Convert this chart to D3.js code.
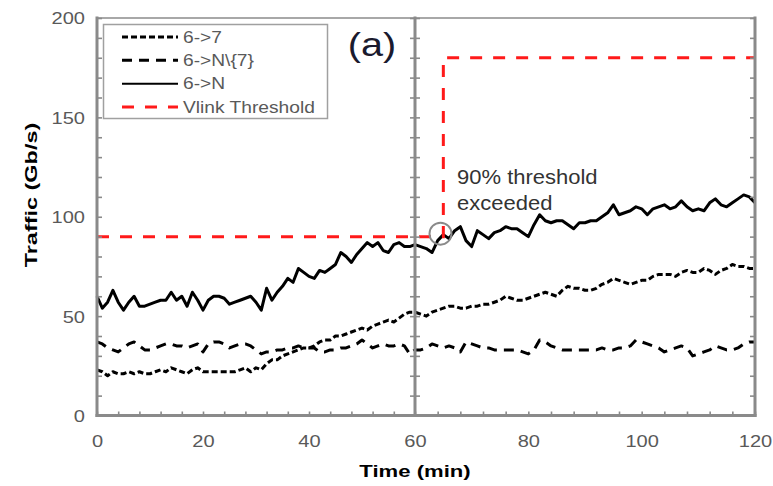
<!DOCTYPE html>
<html>
<head>
<meta charset="utf-8">
<script src="https://cdn.jsdelivr.net/npm/d3@7/dist/d3.min.js"></script>
<style>
  html, body { margin: 0; padding: 0; background: #fff; }
  svg { display: block; }
</style>
</head>
<body>
<svg id="chart" width="773" height="486"></svg>
<script>
// Time axis (minutes) shared by every series
const minutes = d3.range(0, 121);

// 6->N : total traffic leaving node 6
const trafficTotal = [
  60, 54, 57, 63, 57, 53, 57, 60, 55, 55, 56, 57, 58, 58, 62, 58, 60, 55, 62, 58,
  53, 58, 60, 60, 59, 56, 57, 58, 59, 60, 57, 53, 64, 58, 62, 65, 69, 67, 74, 72,
  70, 69, 73, 72, 74, 76, 82, 80, 77, 81, 84, 87, 85, 87, 83, 82, 86, 87, 85, 85,
  86, 85, 84, 82, 88, 91, 89, 93, 95, 88, 85, 93, 91, 89, 92, 93, 95, 94, 94, 92,
  90, 96, 101, 98, 97, 98, 98, 96, 94, 97, 97, 98, 98, 100, 102, 106, 101, 102, 103, 105,
  104, 101, 104, 105, 106, 104, 105, 108, 105, 103, 104, 103, 107, 109, 106, 105, 107, 109, 111, 110,
  107
];

// 6->7 : traffic towards node 7
const trafficTo7 = [
  23, 22, 20, 22, 21, 21, 22, 21, 22, 21, 21, 22, 23, 22, 24, 23, 22, 21, 23, 24,
  22, 22, 22, 22, 22, 22, 22, 23, 24, 22, 24, 23, 26, 28, 28, 30, 31, 32, 33, 34,
  34, 35, 37, 38, 38, 40, 40, 41, 42, 43, 44, 43, 45, 46, 47, 48, 47, 49, 51, 52,
  52, 51, 50, 52, 53, 54, 55, 55, 54, 54, 55, 55, 56, 56, 57, 58, 60, 59, 58, 58,
  59, 60, 61, 62, 61, 60, 63, 65, 64, 64, 63, 63, 64, 66, 67, 69, 68, 67, 66, 67,
  68, 68, 70, 71, 71, 71, 70, 72, 73, 72, 72, 74, 73, 71, 73, 74, 76, 75, 75, 74,
  74
];

// 6->N\{7} : traffic towards all other nodes
const trafficOthers = [
  37, 36, 34, 33, 32, 34, 36, 37, 35, 33, 33, 34, 35, 36, 36, 35, 35, 34, 35, 36,
  32, 36, 37, 37, 36, 34, 35, 36, 36, 35, 33, 31, 32, 32, 33, 33, 34, 34, 35, 34,
  34, 34, 32, 32, 33, 33, 34, 34, 35, 36, 38, 36, 34, 35, 36, 35, 35, 36, 35, 31,
  33, 33, 34, 36, 35, 34, 35, 34, 32, 37, 36, 35, 34, 34, 33, 33, 33, 33, 33, 32,
  31, 33, 38, 37, 35, 34, 33, 33, 33, 33, 33, 33, 33, 34, 33, 33, 34, 34, 35, 38,
  37, 36, 35, 34, 32, 33, 34, 35, 34, 30, 31, 32, 33, 35, 34, 33, 33, 34, 36, 37,
  37
];

// Virtual-link threshold: step from 90 to 180 Gb/s once exceeded
const thresholdTimes  = [0, 65, 65, 120];
const thresholdValues = [90, 90, 180, 180];

// Point where the 90% threshold is exceeded
const exceedTime = 64.5;
const exceedValue = 90;

// Axis ticks
const xTickLabels = [0, 20, 40, 60, 80, 100, 120];
const yTickLabels = [0, 50, 100, 150, 200];
const xMinorTicks = d3.range(0, 121, 4);
const yMinorTicks = d3.range(0, 201, 10);

// Legend entries
const legendLabels = ["6->7", "6->N\\{7}", "6->N", "Vlink Threshold"];

const svg = d3.select("#chart");

// The two halves of the time axis are drawn at slightly different widths
const x = d3.scaleLinear().domain([0, 60, 120]).range([97, 415, 755]);
const y = d3.scaleLinear().domain([0, 200]).range([415.5, 18]);

const axisGrey = "#8a8a8a";
const labelGrey = "#595959";
const font = "'Liberation Sans', Arial, sans-serif";

// Frame: top border
svg.append("line")
  .attr("x1", x(0)).attr("x2", x(120))
  .attr("y1", y(200)).attr("y2", y(200))
  .attr("stroke", "#a8a8a8").attr("stroke-width", 2);

// Series styles
const series = [
  { values: trafficTo7,    dash: "6,3",  width: 3 },
  { values: trafficOthers, dash: "10,7", width: 3 },
  { values: trafficTotal,  dash: null,   width: 3 }
];

const line = d3.line()
  .x((d, i) => x(minutes[i]))
  .y(d => y(d));

series.forEach(s => {
  svg.append("path")
    .datum(s.values)
    .attr("d", line)
    .attr("fill", "none")
    .attr("stroke", "#000")
    .attr("stroke-width", s.width)
    .attr("stroke-linejoin", "round")
    .attr("stroke-dasharray", s.dash);
});

// Threshold step line
const thrLine = d3.line()
  .x((d, i) => x(thresholdTimes[i]))
  .y(d => y(d));
svg.append("path")
  .datum(thresholdValues)
  .attr("d", thrLine)
  .attr("fill", "none")
  .attr("stroke", "#ff1a1a")
  .attr("stroke-width", 3)
  .attr("stroke-dasharray", "12,11");

// Axes: minor ticks pointing inward
const tickStyle = g => {
  g.select(".domain").remove();
  g.selectAll(".tick line").attr("stroke", axisGrey).attr("stroke-width", 1.6);
};

svg.append("g").attr("transform", `translate(${x(0)},0)`)
  .call(d3.axisRight(y).tickValues(yMinorTicks).tickSize(5).tickFormat(""))
  .call(tickStyle);
svg.append("g").attr("transform", `translate(${x(60)},0)`)
  .call(d3.axisRight(y).tickValues(yMinorTicks).tickSize(5).tickFormat(""))
  .call(tickStyle);
svg.append("g").attr("transform", `translate(${x(60)},0)`)
  .call(d3.axisLeft(y).tickValues(yMinorTicks).tickSize(5).tickFormat(""))
  .call(tickStyle);
svg.append("g").attr("transform", `translate(${x(120)},0)`)
  .call(d3.axisLeft(y).tickValues(yMinorTicks).tickSize(5).tickFormat(""))
  .call(tickStyle);
svg.append("g").attr("transform", `translate(0,${y(0)})`)
  .call(d3.axisTop(x).tickValues(xMinorTicks).tickSize(4).tickFormat(""))
  .call(tickStyle);

// Frame lines: left, middle, right, bottom
[[x(0), y(200), x(0), y(0)],
 [x(60), y(200), x(60), y(0)],
 [x(120), y(200), x(120), y(0)],
 [x(0), y(0), x(120), y(0)]].forEach(c => {
  svg.append("line")
    .attr("x1", c[0]).attr("y1", c[1]).attr("x2", c[2]).attr("y2", c[3])
    .attr("stroke", axisGrey).attr("stroke-width", 3)
    .attr("stroke-linecap", "square");
});

// Tick labels
const yAxis = svg.append("g").attr("transform", `translate(${x(0)},0)`)
  .call(d3.axisLeft(y).tickValues(yTickLabels).tickSize(0).tickPadding(0));
yAxis.select(".domain").remove();
yAxis.selectAll("text")
  .attr("x", null).attr("dy", "0.35em")
  .attr("transform", "translate(-12,0) scale(1.18,1)")
  .attr("fill", labelGrey)
  .style("font-family", font)
  .style("font-size", "17px");

const xAxis = svg.append("g").attr("transform", `translate(0,${y(0)})`)
  .call(d3.axisBottom(x).tickValues(xTickLabels).tickSize(0).tickPadding(0));
xAxis.select(".domain").remove();
xAxis.selectAll("text")
  .attr("y", null).attr("dy", null)
  .attr("transform", "translate(0,31) scale(1.18,1)")
  .attr("fill", labelGrey)
  .style("font-family", font)
  .style("font-size", "17px");

// Axis titles
svg.append("text")
  .attr("transform", `translate(415,477) scale(1.3,1)`)
  .attr("text-anchor", "middle")
  .style("font-family", font)
  .style("font-size", "17px").style("font-weight", "bold")
  .text("Time (min)");

svg.append("text")
  .attr("transform", `translate(37,195) rotate(-90) scale(1.38,1)`)
  .attr("text-anchor", "middle")
  .style("font-family", font)
  .style("font-size", "17px").style("font-weight", "bold")
  .text("Traffic (Gb/s)");

// Panel tag
svg.append("text")
  .attr("transform", "translate(372,56) scale(1.2,1)")
  .attr("text-anchor", "middle")
  .attr("fill", "#1a1a2e")
  .style("font-family", font)
  .style("font-size", "33px")
  .text("(a)");

// Annotation: threshold exceeded
svg.append("circle")
  .attr("cx", x(exceedTime)).attr("cy", y(exceedValue) - 3)
  .attr("r", 11)
  .attr("fill", "none")
  .attr("stroke", "#8a8a8a")
  .attr("stroke-width", 2);

const note = svg.append("text")
  .attr("transform", "translate(457,0) scale(1.1,1)")
  .attr("fill", "#333")
  .style("font-family", font)
  .style("font-size", "20px");
note.append("tspan").attr("x", 0).attr("y", 184).text("90% threshold");
note.append("tspan").attr("x", 0).attr("y", 210).text("exceeded");

// Legend
const legend = svg.append("g");
legend.append("rect")
  .attr("x", 103.5).attr("y", 24.5).attr("width", 224).attr("height", 94)
  .attr("fill", "#fff").attr("stroke", "#a0a0a0").attr("stroke-width", 1.5);

const legendStyles = [
  { color: "#000", dash: "6,3" },
  { color: "#000", dash: "10,7" },
  { color: "#000", dash: null },
  { color: "#ff1a1a", dash: "12,11" }
];
const legendY = d3.scalePoint().domain(legendLabels).range([37, 107]);

legendLabels.forEach((lab, i) => {
  const yy = legendY(lab);
  legend.append("line")
    .attr("x1", 122).attr("x2", 178).attr("y1", yy).attr("y2", yy)
    .attr("stroke", legendStyles[i].color)
    .attr("stroke-width", i === 2 ? 2 : 3)
    .attr("stroke-dasharray", legendStyles[i].dash);
  legend.append("text")
    .attr("transform", `translate(183,${yy}) scale(1.2,1)`)
    .attr("dy", "0.35em")
    .attr("fill", labelGrey)
    .style("font-family", font)
    .style("font-size", "16px")
    .text(lab);
});
</script>
</body>
</html>
